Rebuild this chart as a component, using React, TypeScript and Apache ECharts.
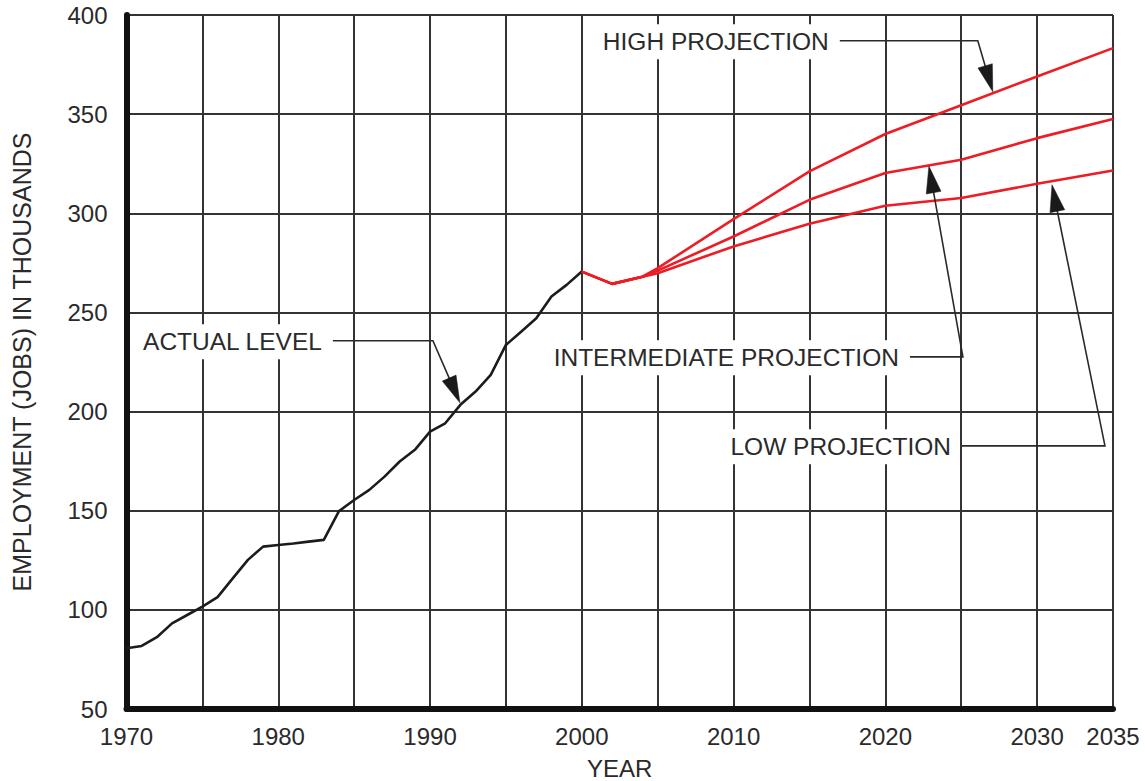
import React, { useEffect, useRef } from 'react';
import * as echarts from 'echarts';

// ---- data ----
const actualYears = [
  1970, 1971, 1972, 1973, 1974, 1975, 1976, 1977, 1978, 1979,
  1980, 1981, 1982, 1983, 1984, 1985, 1986, 1987, 1988, 1989,
  1990, 1991, 1992, 1993, 1994, 1995, 1996, 1997, 1998, 1999, 2000,
];
const actualLevel = [
  80.6, 81.8, 86.2, 93.2, 97.4, 101.6, 106.4, 115.9, 125.2, 131.9,
  132.7, 133.5, 134.4, 135.3, 149.8, 155.4, 160.5, 167.2, 174.8, 180.7,
  189.9, 194.1, 203.4, 210.1, 218.5, 233.6, 240.3, 247.1, 258.0, 263.9, 270.6,
];
const projectionYears = [2000, 2002, 2004, 2005, 2010, 2015, 2020, 2025, 2030, 2035];
const highProjection = [270.6, 264.4, 268.0, 272.3, 297.1, 321.1, 340.0, 354.5, 369.0, 383.3];
const intermediateProjection = [270.6, 264.4, 268.0, 271.1, 288.3, 306.8, 320.3, 327.0, 337.9, 347.5];
const lowProjection = [270.6, 264.4, 268.0, 269.8, 283.3, 294.7, 303.8, 307.7, 314.9, 321.6];

const xTickLabels = ['1970', '1980', '1990', '2000', '2010', '2020', '2030', '2035'];
const yTickLabels = ['50', '100', '150', '200', '250', '300', '350', '400'];

// annotations: label, leader start, elbow, arrow tip (data coordinates)
const annotationLabels = ['ACTUAL LEVEL', 'HIGH PROJECTION', 'INTERMEDIATE PROJECTION', 'LOW PROJECTION'];
const annotationStarts = [[1983.6, 235.7], [2017.0, 387.0], [2021.62, 227.6], [2025.05, 182.7]];
const annotationElbows = [[1990.19, 235.7], [2026.09, 387.0], [2025.11, 227.6], [2034.47, 182.7]];
const annotationTips = [[1991.97, 204.4], [2027.08, 361.3], [2022.87, 323.8], [2030.98, 314.4]];

const FONT = "'Liberation Sans', Arial, Helvetica, sans-serif";

const zip = (xs: number[], ys: number[]) => xs.map((x, i) => [x, ys[i]]);

export default function App() {
  const ref = useRef<HTMLDivElement>(null);

  useEffect(() => {
    if (!ref.current) return;
    const chart = echarts.init(ref.current, null, { renderer: 'svg' });
    const red = '#ee1c25';
    const option: any = {
      animation: false,
      backgroundColor: '#ffffff',
      grid: { left: 126.5, top: 15, right: 32, bottom: 72, outerBoundsMode: 'none' },
      xAxis: {
        type: 'value',
        min: 1970,
        max: 2035,
        interval: 5,
        name: 'YEAR',
        nameLocation: 'middle',
        nameGap: 47,
        nameTextStyle: { fontFamily: FONT, fontSize: 24, color: '#2a2a2a' },
        axisLine: { show: true, onZero: false, lineStyle: { color: '#111', width: 6 } },
        axisTick: { show: false },
        axisLabel: {
          margin: 15,
          fontFamily: FONT,
          fontSize: 24,
          color: '#2a2a2a',
          showMinLabel: true,
          showMaxLabel: true,
          formatter: (v: number) => (xTickLabels.includes(String(v)) ? String(v) : ''),
        },
        splitLine: { show: true, lineStyle: { color: '#333', width: 2 } },
        z: 2,
      },
      yAxis: {
        type: 'value',
        min: 50,
        max: 400,
        interval: 50,
        name: 'EMPLOYMENT (JOBS) IN THOUSANDS',
        nameLocation: 'middle',
        nameGap: 92,
        nameTextStyle: { fontFamily: FONT, fontSize: 25, color: '#2a2a2a' },
        axisLine: { show: true, onZero: false, lineStyle: { color: '#111', width: 6 } },
        axisTick: { show: false },
        axisLabel: {
          margin: 19,
          fontFamily: FONT,
          fontSize: 24,
          color: '#2a2a2a',
          formatter: (v: number) => (yTickLabels.includes(String(v)) ? String(v) : ''),
        },
        splitLine: { show: true, lineStyle: { color: '#333', width: 2 } },
        z: 2,
      },
      series: [
        {
          type: 'line', name: 'Actual level', data: zip(actualYears, actualLevel),
          symbol: 'none', lineStyle: { color: '#1c1c1c', width: 2.6 }, z: 3,
        },
        {
          type: 'line', name: 'High projection', data: zip(projectionYears, highProjection),
          symbol: 'none', lineStyle: { color: red, width: 2.6 }, z: 3,
        },
        {
          type: 'line', name: 'Intermediate projection', data: zip(projectionYears, intermediateProjection),
          symbol: 'none', lineStyle: { color: red, width: 2.6 }, z: 3,
        },
        {
          type: 'line', name: 'Low projection', data: zip(projectionYears, lowProjection),
          symbol: 'none', lineStyle: { color: red, width: 2.6 }, z: 3,
        },
      ],
    };
    chart.setOption(option);

    const toPx = (p: number[]) => chart.convertToPixel({ gridIndex: 0 }, p) as number[];
    const elements: any[] = [];
    annotationLabels.forEach((label, i) => {
      const s = toPx(annotationStarts[i]);
      const e = toPx(annotationElbows[i]);
      const t = toPx(annotationTips[i]);
      const dx = t[0] - e[0];
      const dy = t[1] - e[1];
      const len = Math.sqrt(dx * dx + dy * dy) || 1;
      const ux = dx / len;
      const uy = dy / len;
      const L = 27;
      const W = 7.5;
      const bx = t[0] - ux * L;
      const by = t[1] - uy * L;
      const nx = -uy;
      const ny = ux;
      elements.push({
        type: 'text',
        z: 50,
        style: {
          text: label,
          x: s[0] - 5,
          y: s[1] + 1,
          align: 'right',
          verticalAlign: 'middle',
          textAlign: 'right',
          textVerticalAlign: 'middle',
          fontFamily: FONT,
          fontSize: 24.5,
          fill: '#2a2a2a',
          backgroundColor: '#ffffff',
          padding: [5, 6, 5, 8],
        },
      });
      elements.push({
        type: 'polyline',
        z: 50,
        shape: { points: [[s[0], s[1]], [e[0], e[1]], [bx + ux * 2, by + uy * 2]] },
        style: { stroke: '#2a2a2a', lineWidth: 1.6, fill: 'none' },
      });
      elements.push({
        type: 'polygon',
        z: 51,
        shape: {
          points: [
            [t[0], t[1]],
            [bx + nx * W, by + ny * W],
            [bx - nx * W, by - ny * W],
          ],
        },
        style: { fill: '#1a1a1a', stroke: '#1a1a1a', lineWidth: 0.5 },
      });
    });
    chart.setOption({ graphic: { elements } });

    return () => {
      chart.dispose();
    };
  }, []);

  return (
    <div
      ref={ref}
      style={{ position: 'absolute', left: 0, top: 0, width: 1145, height: 781 }}
    />
  );
}
